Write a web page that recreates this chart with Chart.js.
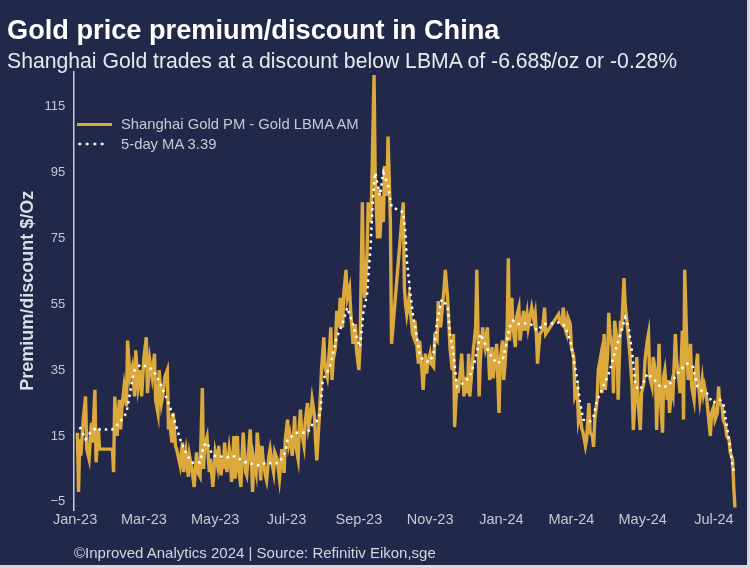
<!DOCTYPE html>
<html><head><meta charset="utf-8">
<script src="https://cdn.jsdelivr.net/npm/chart.js@4.4.1/dist/chart.umd.min.js"></script>
<style>
html,body{margin:0;padding:0;background:#21284a;}
body{width:750px;height:568px;overflow:hidden;}
#wrap{position:relative;width:750px;height:568px;background:#21284a;font-family:"Liberation Sans",Arial,sans-serif;}
#c{position:absolute;left:0;top:0;}
.t{position:absolute;white-space:nowrap;line-height:1;}
#title{left:7px;top:15.6px;font-size:27.2px;font-weight:bold;color:#ffffff;}
#sub{left:7px;top:50.2px;font-size:21.2px;color:#e8e9ef;}
#foot{left:74px;top:545px;font-size:15px;color:#d4d6de;}
.legtxt{left:121px;font-size:14.8px;color:#c8cad3;}
#leg1line{position:absolute;left:77px;top:122.5px;width:35px;height:3px;background:#dba93c;}
#leg2line{position:absolute;left:76px;top:142px;width:30px;height:4px;background-image:radial-gradient(circle,#ffffff 1.3px,transparent 1.7px);background-size:7.5px 4px;}
#edgeR{position:absolute;right:0;top:0;width:3px;height:568px;background:#d8d9e0;}
#edgeB{position:absolute;left:0;bottom:0;width:750px;height:3px;background:#d8d9e0;}
</style>
</head>
<body>
<div id="wrap">
<canvas id="c" width="750" height="568"></canvas>
<div class="t" id="title">Gold price premium/discount in China</div>
<div class="t" id="sub">Shanghai Gold trades at a discount below LBMA of -6.68$/oz or -0.28%</div>
<div id="leg1line"></div>
<div class="t legtxt" id="leg1" style="top:116.8px"></div>
<div id="leg2line"></div>
<div class="t legtxt" id="leg2" style="top:136.8px"></div>
<div class="t" id="foot">©Inproved Analytics 2024 | Source: Refinitiv Eikon,sge</div>
<div id="edgeR"></div>
<div id="edgeB"></div>
</div>
<script>
// ---- data ----
const goldLabel = 'Shanghai Gold PM - Gold LBMA AM';
const maLabel = '5-day MA 3.39';

const goldDates = [
'2023-01-03','2023-01-04','2023-01-05','2023-01-06','2023-01-08','2023-01-10','2023-01-11','2023-01-13','2023-01-15','2023-01-16','2023-01-18','2023-01-19','2023-01-21','2023-01-22',
'2023-02-02','2023-02-03','2023-02-04','2023-02-06','2023-02-08','2023-02-09','2023-02-10','2023-02-12','2023-02-14','2023-02-15','2023-02-17','2023-02-19','2023-02-21','2023-02-22','2023-02-24','2023-02-26','2023-02-27',
'2023-03-01','2023-03-03','2023-03-04','2023-03-06','2023-03-08','2023-03-10','2023-03-11','2023-03-13','2023-03-14','2023-03-16','2023-03-17','2023-03-19','2023-03-21','2023-03-22','2023-03-23','2023-03-25','2023-03-26','2023-03-28','2023-03-29',
'2023-04-01','2023-04-03','2023-04-04','2023-04-06','2023-04-08','2023-04-09','2023-04-11','2023-04-13','2023-04-15','2023-04-16','2023-04-18','2023-04-20','2023-04-21','2023-04-22','2023-04-24','2023-04-26','2023-04-27','2023-04-29',
'2023-05-01','2023-05-03','2023-05-04','2023-05-06','2023-05-07','2023-05-08','2023-05-09','2023-05-11','2023-05-13','2023-05-14','2023-05-15','2023-05-17','2023-05-18','2023-05-20','2023-05-21','2023-05-23','2023-05-24','2023-05-25','2023-05-27','2023-05-28','2023-05-30','2023-05-31',
'2023-06-02','2023-06-03','2023-06-05','2023-06-06','2023-06-08','2023-06-09','2023-06-10','2023-06-11','2023-06-13','2023-06-14','2023-06-16','2023-06-17','2023-06-19','2023-06-20','2023-06-21','2023-06-23','2023-06-25','2023-06-26','2023-06-27','2023-06-29','2023-06-30',
'2023-07-02','2023-07-03','2023-07-04','2023-07-06','2023-07-08','2023-07-09','2023-07-11','2023-07-12','2023-07-13','2023-07-14','2023-07-16','2023-07-17','2023-07-19','2023-07-20','2023-07-22','2023-07-23','2023-07-25','2023-07-26','2023-07-27','2023-07-29','2023-07-30','2023-07-31',
'2023-08-02','2023-08-03','2023-08-05','2023-08-07','2023-08-08','2023-08-09','2023-08-10','2023-08-12','2023-08-13','2023-08-15','2023-08-16','2023-08-18','2023-08-19','2023-08-21','2023-08-22','2023-08-24','2023-08-25','2023-08-26','2023-08-27','2023-08-29','2023-08-30',
'2023-09-01','2023-09-02','2023-09-04','2023-09-05','2023-09-06','2023-09-08','2023-09-09','2023-09-11','2023-09-12','2023-09-14','2023-09-15','2023-09-17','2023-09-18','2023-09-19','2023-09-21','2023-09-22','2023-09-23','2023-09-25','2023-09-26','2023-09-28','2023-09-29',
'2023-10-09','2023-10-10','2023-10-11','2023-10-12','2023-10-14','2023-10-15','2023-10-17','2023-10-18','2023-10-19','2023-10-21','2023-10-22','2023-10-23','2023-10-25','2023-10-26','2023-10-28','2023-10-29','2023-10-30',
'2023-11-01','2023-11-02','2023-11-04','2023-11-05','2023-11-07','2023-11-08','2023-11-10','2023-11-11','2023-11-13','2023-11-14','2023-11-16','2023-11-17','2023-11-18','2023-11-20','2023-11-21','2023-11-22','2023-11-24','2023-11-25','2023-11-27','2023-11-28','2023-11-30',
'2023-12-01','2023-12-03','2023-12-04','2023-12-05','2023-12-07','2023-12-08','2023-12-10','2023-12-11','2023-12-13','2023-12-14','2023-12-16','2023-12-17','2023-12-18','2023-12-20','2023-12-21','2023-12-22','2023-12-24','2023-12-25','2023-12-27','2023-12-28','2023-12-30','2023-12-31',
'2024-01-02','2024-01-03','2024-01-04','2024-01-06','2024-01-07','2024-01-08','2024-01-10','2024-01-11','2024-01-13','2024-01-14','2024-01-16','2024-01-17','2024-01-19','2024-01-20','2024-01-21','2024-01-23','2024-01-24','2024-01-26','2024-01-27','2024-01-29','2024-01-30','2024-01-31',
'2024-02-01','2024-02-03','2024-02-05','2024-02-06','2024-02-07','2024-02-08','2024-02-19','2024-02-20','2024-02-22','2024-02-23','2024-02-25','2024-02-26','2024-02-27','2024-02-29',
'2024-03-01','2024-03-03','2024-03-04','2024-03-06','2024-03-07','2024-03-08','2024-03-10','2024-03-11','2024-03-13','2024-03-14','2024-03-16','2024-03-17','2024-03-19','2024-03-20','2024-03-21','2024-03-23','2024-03-24','2024-03-26','2024-03-27','2024-03-29','2024-03-30',
'2024-04-01','2024-04-02','2024-04-03','2024-04-05','2024-04-06','2024-04-07','2024-04-09','2024-04-10','2024-04-12','2024-04-13','2024-04-15','2024-04-16','2024-04-18','2024-04-19','2024-04-20','2024-04-22','2024-04-23','2024-04-25','2024-04-26','2024-04-27','2024-04-29','2024-04-30',
'2024-05-02','2024-05-03','2024-05-05','2024-05-06','2024-05-07','2024-05-09','2024-05-10','2024-05-12','2024-05-13','2024-05-15','2024-05-16','2024-05-18','2024-05-19','2024-05-20','2024-05-22','2024-05-23','2024-05-24','2024-05-26','2024-05-27','2024-05-29','2024-05-30',
'2024-06-01','2024-06-02','2024-06-04','2024-06-05','2024-06-06','2024-06-08','2024-06-09','2024-06-11','2024-06-12','2024-06-14','2024-06-15','2024-06-17','2024-06-18','2024-06-19','2024-06-21','2024-06-22','2024-06-23','2024-06-25','2024-06-26','2024-06-28','2024-06-29',
'2024-07-01','2024-07-02','2024-07-04','2024-07-05','2024-07-06','2024-07-08','2024-07-09','2024-07-11','2024-07-12','2024-07-14','2024-07-15','2024-07-17','2024-07-18','2024-07-19'
];
const goldValues = [
16,-2,14,9,20,27,11,8,19,13,29,7,17,11,
11,4,27,15,26,17,23,30,24,44,33,36,27,41,30,35,27,
39,45,28,38,33,40,26,22,35,25,27,33,35,17,19,13,22,12,11,
6,13,4,10,2.6,9,5,-0.5,10,4,2.6,29.6,5,12,14.7,4,8,-0.5,
10,6,12,3,8,5,13,4,11,8,1,15,2,15,5,-0.5,9,16,4,3,12,17,
-2,8,4,16,7,1.5,12,8,3,1.5,9,11,6,4,10,8,2,6,11,3.8,14,
20,13,15,9,21,12,8,17,23,16,12,19,25,18,22,26,21,13,7.6,20,27,35,
45,36,33,42,48,32,38,42,53,48,57,48,58,65.5,57,60,53,48,43,49,41,
35,42,86,62,57,70,86,80,89,124.7,94,75,90,75,88,80,97,88,106,80,43,
86,60,55,52,57,53,46,45,50,41,37,44,35,29,40,34,37,
40,37,36,45,44,56,48,52,60,65.5,57,50,42,35,46,17.7,32,28,35,40,27,
33,28,40,27,36,41,48,65.5,27,38,48,44,42,48,40,32,42,32.5,40,43,22,38,
44,32,36,48,69,44,57,48,42,51,54,44,50,53,47,52,48,52,54,50,52,46,
37,46,47,50,54,46,52,50,49,54,47,46,51,49,
42,39,27,29,20,22,17,16,12,14,25,16,15,11.7,20,26,35,39,28,46,29,
40,52.4,46,42,28,50,44,26,50,47,63,55,48,44,40,30,16.8,30,39,26,16.8,28,
31,38,44,46,33,30,39,34,16.8,43,28,16,33,35,26,32,22,30,28,46,38,
32,28,47,20,65.5,40,32,43,30,26,33,40,30,26,32,28,30,26,22,15,22,
24,20,22,30,25,24,20,18,15,13.8,10,7.7,-0.5,-6.68
];

const maDates = [
'2023-01-05','2023-01-10','2023-01-14','2023-01-20','2023-01-22','2023-02-02','2023-02-08','2023-02-14','2023-02-17','2023-02-19','2023-02-21','2023-02-26',
'2023-03-04','2023-03-09','2023-03-15','2023-03-21','2023-03-26','2023-04-01','2023-04-07','2023-04-12','2023-04-18','2023-04-21','2023-04-24','2023-04-29',
'2023-05-05','2023-05-11','2023-05-16','2023-05-22','2023-05-28','2023-06-02','2023-06-08','2023-06-14','2023-06-20','2023-06-25','2023-06-30',
'2023-07-02','2023-07-06','2023-07-10','2023-07-14','2023-07-19','2023-07-24','2023-07-27','2023-07-30','2023-08-01','2023-08-07','2023-08-13','2023-08-18','2023-08-22','2023-08-27','2023-08-30',
'2023-09-02','2023-09-05','2023-09-08','2023-09-11','2023-09-13','2023-09-15','2023-09-19','2023-09-22','2023-09-23','2023-09-26','2023-09-29',
'2023-10-09','2023-10-11','2023-10-12','2023-10-15','2023-10-17','2023-10-21','2023-10-23','2023-10-26','2023-10-29',
'2023-11-01','2023-11-04','2023-11-07','2023-11-11','2023-11-16','2023-11-18','2023-11-21','2023-11-24','2023-11-29',
'2023-12-05','2023-12-10','2023-12-14','2023-12-18','2023-12-22','2023-12-28',
'2024-01-02','2024-01-06','2024-01-08','2024-01-11','2024-01-14','2024-01-17','2024-01-23','2024-01-26',
'2024-02-01','2024-02-06','2024-02-08','2024-02-19','2024-02-23','2024-02-26','2024-02-29',
'2024-03-02','2024-03-04','2024-03-06','2024-03-08','2024-03-11','2024-03-14','2024-03-17','2024-03-20','2024-03-23','2024-03-26','2024-03-28',
'2024-04-01','2024-04-03','2024-04-06','2024-04-12','2024-04-16','2024-04-19','2024-04-22','2024-04-25','2024-04-29',
'2024-05-05','2024-05-10','2024-05-16','2024-05-22','2024-05-27',
'2024-06-02','2024-06-08','2024-06-13','2024-06-17','2024-06-19','2024-06-25','2024-06-30',
'2024-07-06','2024-07-09','2024-07-12','2024-07-15','2024-07-17','2024-07-19'
];
const maValues = [
17.7,14,16,17.7,17,17,19,22,28,32,35,36.7,
36,35,31,26,21,14,9,6.8,7,12,13,9,
8.8,8.5,9,8,6.8,6.5,6,7,6.5,7,10,
13.8,15,16,16,16,19,19.5,22,32,35.6,45,49,54,49,45,
42,53,58,72.5,86.7,95,88,95,94,91,84.6,
83,76,68.5,58.5,52.5,44.4,40,38,37.6,
37.6,40.4,50,56.5,54.5,46,40,30,31,
33,38.5,46,43,40,37,
38,44,48,50,49,49,49.3,49,
47,49,49,49.5,49,47,44,
40,36,32,26,20,19.5,19.5,21,26,28,30,
33,35,39,46,51,48,40,30,29,
34,32.5,30,30,32,
35,37,36,30,29,28,25,
26,25,18,11.7,5.6,3.39
];

const xTickDates = ['2023-01-01','2023-03-01','2023-05-01','2023-07-01','2023-09-01','2023-11-01','2024-01-01','2024-03-01','2024-05-01','2024-07-01'];
const xTickLabels = ['Jan-23','Mar-23','May-23','Jul-23','Sep-23','Nov-23','Jan-24','Mar-24','May-24','Jul-24'];
const yTickValues = [-5, 15, 35, 55, 75, 95, 115];

// ---- helpers ----
const EPOCH = Date.UTC(2023, 0, 1);
function dayOf(s) { const p = s.split('-').map(Number); return (Date.UTC(p[0], p[1] - 1, p[2]) - EPOCH) / 86400000; }
const xTickDays = xTickDates.map(dayOf);
const goldPts = goldDates.slice(0, Math.min(goldDates.length, goldValues.length)).map((d, i) => ({x: dayOf(d), y: goldValues[i]}));
const maPts = maDates.slice(0, Math.min(maDates.length, maValues.length)).map((d, i) => ({x: dayOf(d), y: maValues[i]}));

const GOLD = '#dba93c';
const TICK = '#c6c9d3';
Chart.defaults.font.family = "'Liberation Sans', Arial, sans-serif";

document.getElementById('leg1').textContent = goldLabel;
document.getElementById('leg2').textContent = maLabel;

new Chart(document.getElementById('c').getContext('2d'), {
  type: 'line',
  data: {
    datasets: [
      {label: maLabel, data: maPts, borderColor: '#ffffff', borderWidth: 2.5, borderDash: [2.5, 4], pointRadius: 0, order: 0, tension: 0, fill: false},
      {label: goldLabel, data: goldPts, borderColor: GOLD, borderWidth: 3.4, pointRadius: 0, order: 1, tension: 0, fill: false}
    ]
  },
  options: {
    responsive: false, animation: false, devicePixelRatio: 1,
    layout: {padding: {top: 71.7, right: 9, bottom: 0, left: 0}},
    plugins: {legend: {display: false}, tooltip: {enabled: false}},
    scales: {
      x: {
        type: 'linear', min: -1.5, max: 570.2,
        grid: {display: false, drawTicks: false},
        border: {display: false},
        afterBuildTicks: s => { s.ticks = xTickDays.map(v => ({value: v})); },
        afterFit: s => { s.height = 58; },
        ticks: {autoSkip: false, maxRotation: 0, minRotation: 0, padding: 1, color: TICK, font: {size: 14.5},
          callback: v => { const i = xTickDays.indexOf(v); return i >= 0 ? xTickLabels[i] : ''; }}
      },
      y: {
        min: -7.5, max: 125.7,
        grid: {display: false, drawTicks: false},
        border: {display: true, color: '#c9ccd6', width: 1.5},
        afterBuildTicks: s => { s.ticks = yTickValues.map(v => ({value: v})); },
        afterFit: s => { s.width = 73.3; },
        ticks: {padding: 8, color: TICK, font: {size: 13},
          callback: v => v < 0 ? '\u2212' + Math.abs(v) : String(v)},
        title: {display: true, text: 'Premium/discount $/Oz', color: '#dcdee6', font: {size: 18, weight: 'bold'}, padding: {top: 16.8, bottom: 0}}
      }
    }
  }
});
</script>
</body></html>
